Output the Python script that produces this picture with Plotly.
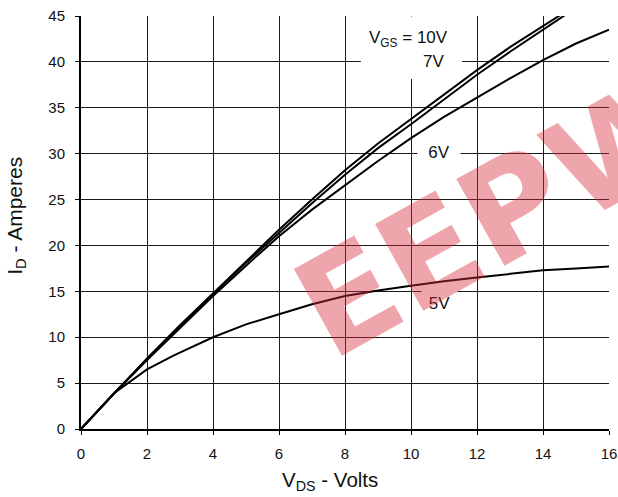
import plotly.graph_objects as go

# Output characteristics: I_D vs V_DS for several V_GS
vds = [0, 1, 2, 3, 4, 5, 6, 7, 8, 9, 10, 11, 12, 13, 14, 15]
id_10v = [0, 3.9, 7.7, 11.3, 14.8, 18.3, 21.7, 25.0, 28.2, 31.1, 33.8, 36.5, 39.1, 41.6, 43.9, 46.2]
id_7v = [0, 3.9, 7.6, 11.2, 14.7, 18.1, 21.4, 24.6, 27.7, 30.6, 33.2, 35.9, 38.6, 41.1, 43.5, 45.9]
vds_6v = [0, 1, 2, 3, 4, 5, 6, 7, 8, 9, 10, 11, 12, 13, 14, 15, 16]
id_6v = [0, 3.85, 7.5, 11.0, 14.5, 17.8, 21.0, 23.9, 26.6, 29.2, 31.7, 34.0, 36.1, 38.2, 40.2, 42.0, 43.5]
vds_5v = [0, 1, 2, 2.8, 4, 5, 6, 7, 8, 9, 10, 11, 12, 13, 14, 15, 16]
id_5v = [0, 3.9, 6.5, 8.0, 10.0, 11.4, 12.5, 13.6, 14.5, 15.1, 15.6, 16.1, 16.5, 16.9, 17.3, 17.5, 17.7]

x_ticks = [0, 2, 4, 6, 8, 10, 12, 14, 16]
y_ticks = [0, 5, 10, 15, 20, 25, 30, 35, 40, 45]

FONT = "Liberation Sans, Arial, sans-serif"

fig = go.Figure()
for xs, ys in [(vds, id_10v), (vds, id_7v), (vds_6v, id_6v), (vds_5v, id_5v)]:
    fig.add_trace(go.Scatter(x=xs, y=ys, mode="lines",
                             line=dict(color="black", width=2),
                             showlegend=False, hoverinfo="skip"))

axis_common = dict(
    showgrid=True, gridcolor="#1a1a1a", gridwidth=1,
    showline=True, linecolor="black", linewidth=2,
    zeroline=False, ticks="outside", ticklen=4, tickcolor="black",
    tickfont=dict(family=FONT, size=15, color="#111"),
    automargin=False, ticklabeloverflow="allow",
)

fig.update_layout(
    width=618, height=497,
    margin=dict(l=81, r=9, t=16, b=68),
    paper_bgcolor="white", plot_bgcolor="white",
    xaxis=dict(range=[0, 16], tickvals=x_ticks, ticklabelstandoff=6, **axis_common),
    yaxis=dict(range=[0, 45], tickvals=y_ticks, ticklabelstandoff=7, **axis_common),
)

# axis titles
fig.add_annotation(x=0.4725, y=-0.126, xref="paper", yref="paper",
                   text="V<sub>DS</sub> - Volts", showarrow=False,
                   xanchor="center", yanchor="middle",
                   font=dict(family=FONT, size=20.5, color="#111"))
fig.add_annotation(x=-0.1233, y=0.516, xref="paper", yref="paper",
                   text="I<sub>D</sub> - Amperes", showarrow=False, textangle=-90,
                   xanchor="center", yanchor="middle",
                   font=dict(family=FONT, size=21, color="#111"))

# white box behind the V_GS / 7V labels (covers grid only)
fig.add_shape(type="rect", xref="x", yref="y", x0=8.48, x1=11.55, y0=38.13, y1=44.95,
              fillcolor="white", line=dict(width=0), layer="between")

lab_font = dict(family=FONT, size=17, color="#111")
fig.add_annotation(x=9.91, y=42.45, xref="x", yref="y", text="V<sub>GS</sub> = 10V",
                   showarrow=False, font=lab_font)
fig.add_annotation(x=10.68, y=40.0, xref="x", yref="y", text="7V",
                   showarrow=False, font=lab_font)
fig.add_annotation(x=10.85, y=30.15, xref="x", yref="y", text="6V",
                   showarrow=False, font=lab_font, bgcolor="white", width=40, height=20)
fig.add_annotation(x=10.87, y=13.73, xref="x", yref="y", text="5V",
                   showarrow=False, font=lab_font, bgcolor="white", width=33, height=28)

# watermark
fig.add_annotation(x=0.7917, y=0.518, xref="paper", yref="paper", text="<b>EEPW</b>",
                   showarrow=False, textangle=-29, xanchor="center", yanchor="middle",
                   font=dict(family="DejaVu Sans, sans-serif", size=136,
                             color="rgba(215,40,55,0.42)"))

# remove the default page margin / scrollbars so the figure fills the window exactly
page_css = ("document.body.style.margin='0';"
            "document.body.style.overflow='hidden';"
            "document.documentElement.style.overflow='hidden';")

fig.write_html("out.html", post_script=page_css,
               config={"displayModeBar": False, "staticPlot": True})
